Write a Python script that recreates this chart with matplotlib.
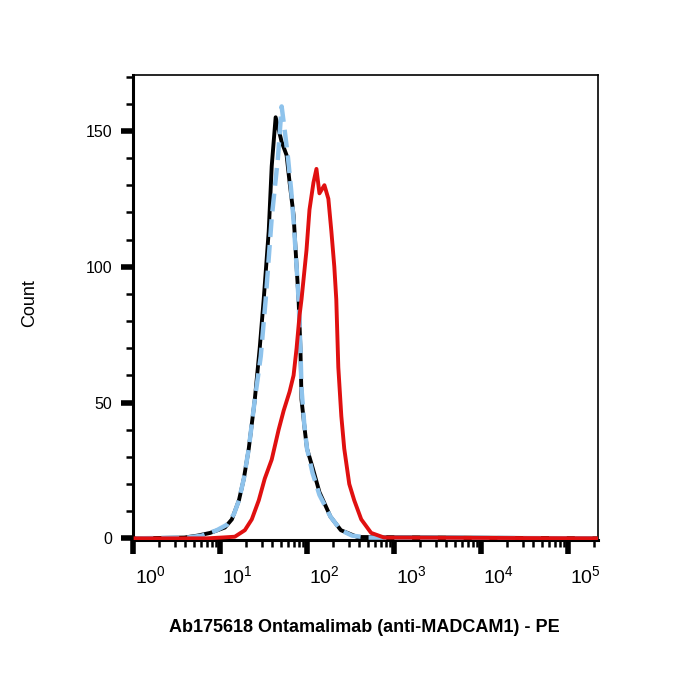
import numpy as np
import matplotlib
matplotlib.use("Agg")
from matplotlib import pyplot as plt
from matplotlib import transforms
from matplotlib.ticker import FixedLocator, NullFormatter

plt.rcParams['font.family'] = ['Liberation Sans', 'DejaVu Sans']
plt.rcParams['mathtext.fontset'] = 'custom'
plt.rcParams['mathtext.rm'] = 'Liberation Sans'
plt.rcParams['mathtext.it'] = 'Liberation Sans'

# fluorescence intensity (PE) vs count
black_x = [1.07, 3.9, 5.5, 7.7, 11.4, 13.7, 16.5, 18.8, 21.4, 25.1, 28.6, 31.8, 36.3, 39.3, 43.6,
           51.1, 58.3, 63.1, 70.1, 75.9, 80.0, 84.0, 86.5, 95.0, 100.0, 116.0, 139.0, 186.0, 245.0,
           380.0, 2.2e5]
black_y = [0, 0.3, 1, 2, 4, 7, 14, 22, 33, 51, 70, 88, 113, 137, 155,
           146, 141, 131, 119, 100, 88, 70, 51, 39, 33, 26, 17, 8, 3,
           0.5, 0]

blue_x = [1.07, 4.2, 6.2, 9.2, 12.0, 14.5, 16.5, 18.8, 21.4, 25.1, 29.4, 33.5, 39.3, 46.3, 51.1,
          55.5, 60.5, 65.8, 70.1, 75.9, 80.0, 84.0, 86.5, 93.0, 100.0, 116.0, 139.0, 186.0, 245.0,
          330.0, 490.0, 2.2e5]
blue_y = [0, 0.3, 1, 3, 5, 9, 14, 22, 33, 51, 67, 88, 118, 140, 159,
          150, 140, 128, 117, 100, 88, 70, 55, 42, 33, 24, 16, 8, 3,
          1, 0.3, 0]

red_x = [1.07, 7.1, 10.5, 14.8, 19.3, 23.2, 27.9, 32.7, 39.3, 47.2, 53.9, 63.1, 70.1, 75.9, 82.0,
         86.5, 98.6, 106.8, 118.7, 128.4, 139.0, 158.5, 176.0, 190.6, 206.0, 217.0, 229.0, 248.0,
         268.0, 306.0, 349.0, 420.0, 546.0, 769.0, 2.2e5]
red_y = [0, 0, 0.3, 0.6, 3, 7, 14, 22, 29, 40, 47, 54, 60, 70, 82,
         88, 106, 121, 131, 136, 127, 130, 125, 113, 100, 88, 63, 45,
         33, 20, 14, 7, 2, 0.3, 0]

decades = [0, 1, 2, 3, 4, 5]
y_major = [0, 50, 100, 150]
y_minor = [10, 20, 30, 40, 60, 70, 80, 90, 110, 120, 130, 140, 160, 170]

fig = plt.figure(figsize=(7, 7), dpi=100)
ax = fig.add_axes([0.19, 0.2286, 0.664, 0.664])

ax.plot(black_x, black_y, color='black', lw=2.8, zorder=3)
ax.plot(blue_x, blue_y, color='#8ec3ec', lw=3.2, dashes=(4, 1.8), zorder=4)
ax.plot(red_x, red_y, color='#e01010', lw=2.8, zorder=5)

ax.set_xscale('log')
ax.set_xlim(1.0, 2.2e5)
ax.set_ylim(-0.6, 170.5)

# x ticks: decades long and thick, minors short
ax.xaxis.set_major_locator(FixedLocator([10.0 ** d for d in decades]))
minors = [m * 10.0 ** d for d in decades for m in range(2, 10)]
ax.xaxis.set_minor_locator(FixedLocator(minors))
ax.xaxis.set_major_formatter(NullFormatter())
ax.xaxis.set_minor_formatter(NullFormatter())
ax.tick_params(axis='x', which='major', direction='out', length=10, width=4)
ax.tick_params(axis='x', which='minor', direction='out', length=5, width=1.8)

# labels sit a bit right of the decade ticks
trans = transforms.blended_transform_factory(ax.transData, ax.transAxes)
for d in decades:
    ax.text(10.0 ** (d + 0.2), -0.055, '$10^{%d}$' % d, transform=trans,
            ha='center', va='top', fontsize=14)

ax.yaxis.set_major_locator(FixedLocator(y_major))
ax.yaxis.set_minor_locator(FixedLocator(y_minor))
ax.tick_params(axis='y', which='major', direction='out', length=9, width=4,
               labelsize=11.5, pad=6)
ax.tick_params(axis='y', which='minor', direction='out', length=5, width=1.8)

ax.spines['left'].set_linewidth(2.2)
ax.spines['bottom'].set_linewidth(2.2)
ax.spines['top'].set_linewidth(1.2)
ax.spines['right'].set_linewidth(1.2)

fig.text(0.042, 0.567, 'Count', rotation=90, ha='center', va='center', fontsize=13)
fig.text(0.521, 0.103, 'Ab175618 Ontamalimab (anti-MADCAM1) - PE', ha='center', va='center',
         fontsize=13, fontweight='bold')

fig.savefig('out.png', dpi=100)
